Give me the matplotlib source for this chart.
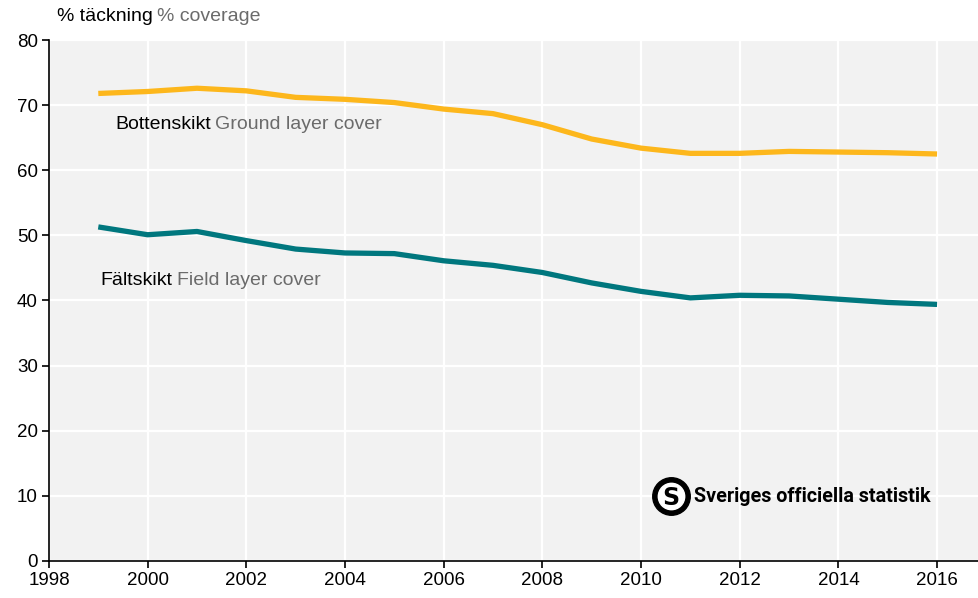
import matplotlib
matplotlib.use("Agg")
import matplotlib.pyplot as plt

years = list(range(1999, 2017))
ground_layer = [71.8, 72.1, 72.6, 72.2, 71.2, 70.9, 70.4, 69.4, 68.7, 67.0,
                64.8, 63.4, 62.6, 62.6, 62.9, 62.8, 62.7, 62.5]
field_layer = [51.3, 50.1, 50.6, 49.2, 47.9, 47.3, 47.2, 46.1, 45.4, 44.3,
               42.7, 41.4, 40.4, 40.8, 40.7, 40.2, 39.7, 39.4]
x_ticks = list(range(1998, 2017, 2))
y_ticks = list(range(0, 81, 10))

YELLOW = "#FDB71C"
TEAL = "#00777E"
GREY = "#6b6b6b"
FONT = ["Liberation Sans", "DejaVu Sans"]

plt.rcParams["font.family"] = FONT

fig = plt.figure(figsize=(9.79, 5.98), dpi=100)
ax = fig.add_axes([0.050, 0.062, 0.950, 0.871])
ax.set_facecolor("#f2f2f2")

ax.plot(years, ground_layer, color=YELLOW, lw=3.8, solid_capstyle="butt", zorder=3)
ax.plot(years, field_layer, color=TEAL, lw=3.8, solid_capstyle="butt", zorder=3)

ax.set_xlim(1998, 2016.85)
ax.set_ylim(0, 80)
ax.set_xticks(x_ticks)
ax.set_yticks(y_ticks)
ax.grid(True, color="white", lw=1.6, zorder=0)
ax.set_axisbelow(True)
for side in ("top", "right"):
    ax.spines[side].set_visible(False)
for side in ("left", "bottom"):
    ax.spines[side].set_color("black")
    ax.spines[side].set_linewidth(1.2)
ax.tick_params(axis="both", direction="out", length=5, width=1.2,
               labelsize=13.5, colors="black", pad=3)


def two_tone(x, y, first, second, transform, size=14, va="center"):
    t1 = ax.text(x, y, first, color="black", fontsize=size,
                 transform=transform, va=va, ha="left")
    fig.canvas.draw()
    bb = t1.get_window_extent()
    inv = transform.inverted()
    x2, _ = inv.transform((bb.x1 + 4, bb.y0))
    ax.text(x2, y, second, color=GREY, fontsize=size,
            transform=transform, va=va, ha="left")


two_tone(1999.34, 67.0, "Bottenskikt", "Ground layer cover", ax.transData)
two_tone(1999.05, 43.0, "Fältskikt", "Field layer cover", ax.transData)

# Axis title above the plot area
t = fig.text(0.058, 0.972, "% täckning", color="black", fontsize=14,
             va="center", ha="left")
fig.canvas.draw()
bb = t.get_window_extent()
fig.text((bb.x1 + 4) / fig.bbox.width, 0.972, "% coverage", color=GREY,
         fontsize=14, va="center", ha="left")

# Official statistics mark
ax.plot([2010.6], [9.9], marker="o", markersize=27, markerfacecolor="black",
        markeredgecolor="black", zorder=4)
ax.plot([2010.6], [9.9], marker="o", markersize=19, markerfacecolor="white",
        markeredgecolor="white", zorder=5)
ax.text(2010.6, 9.7, "S", fontsize=17, fontweight="bold", color="black",
        ha="center", va="center", zorder=6, family="DejaVu Sans")
ax.text(2011.07, 9.9, "Sveriges officiella statistik", fontsize=14.2,
        fontweight="bold", color="black", ha="left", va="center",
        family=["Roboto", "DejaVu Sans"], zorder=6)

fig.savefig("out.png", dpi=100)
